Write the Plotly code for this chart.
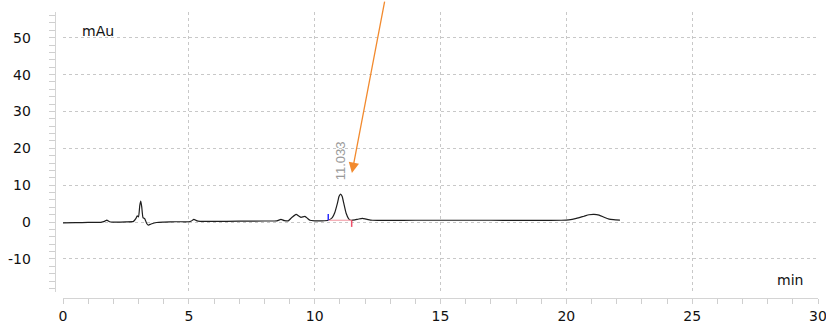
import plotly.graph_objects as go

# Chromatogram signal (retention time in min, absorbance in mAu)
time_min = [0.0, 0.5, 1.0, 1.5, 1.65, 1.74, 1.85, 2.0, 2.5, 2.8, 2.9, 2.95, 3.0, 3.05,
            3.09, 3.13, 3.18, 3.25, 3.32, 3.39, 3.5, 3.72, 4.0, 4.5, 5.0, 5.1, 5.2, 5.3,
            5.45, 6.0, 7.0, 8.0, 8.5, 8.66, 8.8, 8.95, 9.1, 9.26, 9.38, 9.46, 9.61, 9.72,
            9.81, 10.0, 10.3, 10.54, 10.7, 10.8, 10.9, 10.97, 11.03, 11.09, 11.16, 11.25,
            11.35, 11.43, 11.6, 11.75, 11.9, 12.05, 12.3, 13.0, 14.0, 15.0, 16.0, 17.0,
            18.0, 19.0, 19.8, 20.1, 20.4, 20.7, 20.9, 21.1, 21.3, 21.5, 21.7, 21.87, 22.13]
signal_mau = [-0.2, -0.15, -0.1, -0.05, 0.2, 0.55, 0.1, 0.0, 0.05, 0.2, 1.0, 1.7, 1.4, 4.5,
              5.7, 4.0, 1.2, 0.9, -0.3, -0.8, -0.5, -0.1, 0.0, 0.1, 0.1, 0.3, 0.75, 0.4,
              0.2, 0.2, 0.25, 0.3, 0.35, 0.75, 0.4, 0.35, 1.3, 2.1, 1.6, 1.3, 1.55, 1.0,
              0.5, 0.35, 0.35, 0.5, 1.2, 2.6, 5.0, 7.0, 7.6, 7.0, 5.0, 2.4,
              0.9, 0.5, 0.6, 0.85, 1.0, 0.8, 0.5, 0.45, 0.5, 0.5, 0.5, 0.5,
              0.45, 0.45, 0.5, 0.6, 1.0, 1.6, 2.0, 2.1, 1.9, 1.3, 0.8, 0.65, 0.55]

# Integrated peak
peak_rt = 11.033
peak_label = "11.033"
peak_height = 7.6
peak_start = 10.54
peak_end = 11.47
peak_baseline = 0.5
start_mark_top = 2.2
end_mark_bottom = -1.3

# Pointer arrow (tail -> head)
arrow_tail = (12.79, 60.2)
arrow_head = (11.48, 13.3)

x_ticks = [0, 5, 10, 15, 20, 25, 30]
y_ticks = [-10, 0, 10, 20, 30, 40, 50]
y_tick_labels = ["-10", "0", "10", "20", "30", "40", "50"]

fig = go.Figure()

fig.add_trace(go.Scatter(
    x=time_min, y=signal_mau, mode="lines",
    line=dict(color="#1e1e1e", width=1.2, shape="spline", smoothing=0.5),
    hoverinfo="skip", showlegend=False))

# integration baseline and start / end markers
fig.add_trace(go.Scatter(
    x=[peak_start, peak_end], y=[peak_baseline, peak_baseline], mode="lines",
    line=dict(color="#f4a3ad", width=1.2), showlegend=False, hoverinfo="skip"))
fig.add_trace(go.Scatter(
    x=[peak_start, peak_start], y=[peak_baseline, start_mark_top], mode="lines",
    line=dict(color="#2b2bff", width=1.5), showlegend=False, hoverinfo="skip"))
fig.add_trace(go.Scatter(
    x=[peak_end, peak_end], y=[peak_baseline, end_mark_bottom], mode="lines",
    line=dict(color="#f0506a", width=1.5), showlegend=False, hoverinfo="skip"))

tick_font = dict(family="DejaVu Sans", size=14, color="#111111")

fig.update_layout(
    width=826, height=321,
    margin=dict(l=55, r=8, t=12, b=23, autoexpand=False),
    paper_bgcolor="white", plot_bgcolor="white",
    xaxis=dict(
        domain=[0.0105, 1.0], range=[0, 30], anchor="free", position=0,
        automargin=False, ticklabeloverflow="allow",
        tickvals=x_ticks, ticks="outside", ticklen=5, tickcolor="#cfcfcf",
        showline=True, linecolor="#d4d4d4", linewidth=1,
        showgrid=True, gridcolor="#c8c8c8", griddash="dot", gridwidth=1,
        zeroline=False, tickfont=tick_font,
        minor=dict(dtick=1, ticks="outside", ticklen=5, tickcolor="#cfcfcf", showgrid=False),
    ),
    yaxis=dict(
        domain=[0.021, 1.0], range=[-18.95, 56.97], anchor="free", position=0,
        automargin=False, showticklabels=False,
        tickvals=y_ticks, ticks="outside", ticklen=6, tickcolor="#cfcfcf",
        showline=True, linecolor="#d4d4d4", linewidth=1,
        showgrid=True, gridcolor="#c8c8c8", griddash="dot", gridwidth=1,
        zeroline=False,
        minor=dict(dtick=2, ticks="outside", ticklen=6, tickcolor="#cfcfcf", showgrid=False),
    ),
)

# y tick labels, set well clear of the detached axis line
for val, lab in zip(y_ticks, y_tick_labels):
    fig.add_annotation(
        xref="paper", yref="y", x=-0.029, y=val, text=lab, showarrow=False,
        xanchor="right", yanchor="middle", font=tick_font)

fig.add_annotation(
    xref="x domain", yref="y domain", x=0.0225, y=0.932,
    xanchor="left", yanchor="middle", text="mAu", showarrow=False,
    font=dict(family="DejaVu Sans", size=14, color="#111111"))
fig.add_annotation(
    xref="x domain", yref="y domain", x=0.983, y=0.043,
    xanchor="right", yanchor="middle", text="min", showarrow=False,
    font=dict(family="DejaVu Sans", size=14, color="#111111"))

fig.add_annotation(
    x=peak_rt, y=peak_height, text=peak_label, textangle=-90,
    xanchor="center", yanchor="bottom", yshift=12, showarrow=False,
    font=dict(family="Liberation Sans", size=13, color="#9a9a9a"))

fig.add_annotation(
    x=arrow_head[0], y=arrow_head[1], ax=arrow_tail[0], ay=arrow_tail[1],
    axref="x", ayref="y", text="", showarrow=True,
    arrowhead=2, arrowsize=1.6, arrowwidth=1.3, arrowcolor="#f28a2e")

fig.write_html("out.html")
